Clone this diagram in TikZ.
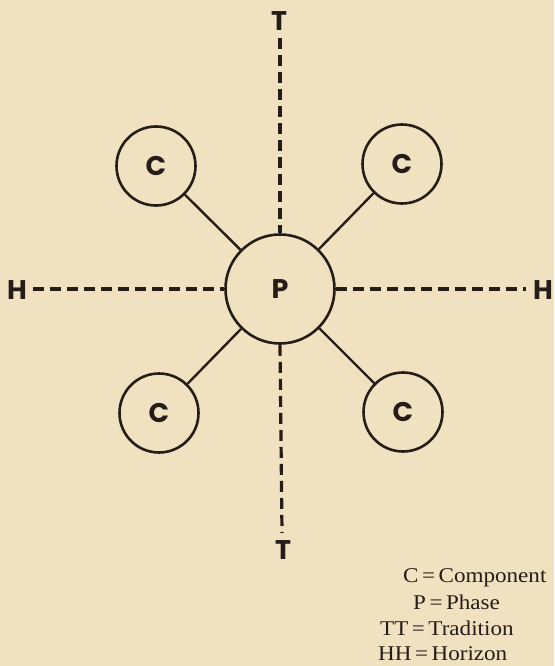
\documentclass[tikz,border=0pt]{standalone}
\usepackage{fontspec}
\setsansfont{Poppins}
\newfontfamily\legendfont[FakeStretch=1.1]{Liberation Serif}
\definecolor{paper}{RGB}{240,226,192}
\definecolor{ink}{RGB}{38,28,24}
\begin{document}
\begin{tikzpicture}[x=1pt,y=-1pt,
  ring/.style={circle,draw=ink,line width=2.6pt,inner sep=0pt,text=ink,
    font=\sffamily\bfseries\fontsize{27}{29}\selectfont},
  phase/.style={ring,minimum size=109pt},
  comp/.style={ring,minimum size=79pt},
  axislabel/.style={inner sep=0pt,text=ink,font=\sffamily\bfseries\fontsize{27}{29}\selectfont},
  spoke/.style={draw=ink,line width=2.4pt},
  axis/.style={draw=ink,line width=3.2pt,dash pattern=on 11pt off 6pt},
  legend/.style={anchor=base west,inner sep=0pt,text=ink,font=\legendfont\fontsize{21}{24}\selectfont}]
\fill[paper] (0,0) rectangle (554,666);
\useasboundingbox (0,0) rectangle (554,666);

\node[phase] (p) at (280,289) {P};
\node[comp] (c1) at (156,166) {C};
\node[comp] (c2) at (402,164) {C};
\node[comp] (c3) at (159,413) {C};
\node[comp] (c4) at (403,412) {C};

\node[axislabel] (tt) at (279,21) {T};
\node[axislabel] (tb) at (283,550) {T};
\node[axislabel] (hl) at (17,290) {H};
\node[axislabel] (hr) at (543,290) {H};

\coordinate (ta) at (280,38);
\coordinate (tz) at (282,533);
\coordinate (ha) at (33,289);
\coordinate (hz) at (526,289);

\draw[axis] (ta) -- (p.north);
\draw[axis] (p.south) -- (tz);
\draw[axis] (ha) -- (p.west);
\draw[axis] (p.east) -- (hz);

\draw[spoke] (c1) -- (p);
\draw[spoke] (c2) -- (p);
\draw[spoke] (c3) -- (p);
\draw[spoke] (c4) -- (p);

\node[legend] (l1) at (403,582) {C\,=\,Component};
\node[legend] (l2) at (413,609) {P\,=\,Phase};
\node[legend] (l3) at (380,635) {TT\,=\,Tradition};
\node[legend] (l4) at (378,660) {HH\,=\,Horizon};
\end{tikzpicture}
\end{document}
